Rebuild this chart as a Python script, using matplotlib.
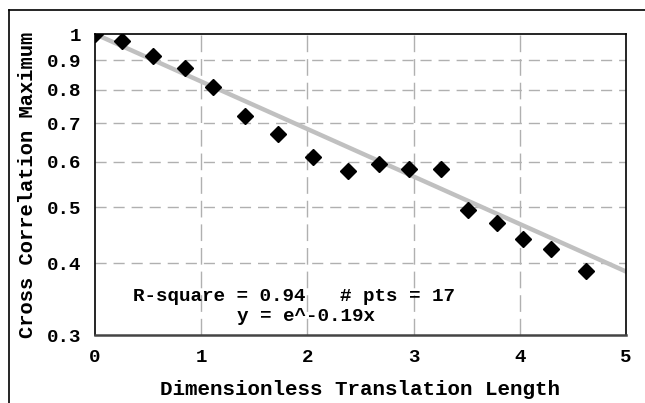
import numpy as np
import matplotlib
matplotlib.use("Agg")
import matplotlib.pyplot as plt
from matplotlib.lines import Line2D
from matplotlib.ticker import FixedLocator, NullLocator

# measured points: translation length vs cross-correlation peak
x_len = [0.0, 0.25, 0.55, 0.85, 1.11, 1.41, 1.72, 2.05, 2.38, 2.67, 2.96, 3.26,
         3.51, 3.79, 4.03, 4.29, 4.62]
corr_max = [1.0, 0.971, 0.914, 0.872, 0.808, 0.720, 0.671, 0.612, 0.578, 0.595,
            0.582, 0.583, 0.494, 0.470, 0.440, 0.424, 0.387]

fit_k = 0.19
r_square = 0.94

y_ticks = [0.3, 0.4, 0.5, 0.6, 0.7, 0.8, 0.9, 1.0]
y_ticklabels = ["0.3", "0.4", "0.5", "0.6", "0.7", "0.8", "0.9", "1"]
x_ticks = [0, 1, 2, 3, 4, 5]

font = "Liberation Mono"

fig = plt.figure(figsize=(6.45, 4.03), dpi=100)
ax = fig.add_axes([0.1473, 0.1687, 0.8232, 0.7469])

# fitted exponential
xf = np.linspace(0, 5, 200)
ax.plot(xf, np.exp(-fit_k * xf), color="#c0c0c0", lw=3.2, zorder=2)

ax.plot(x_len, corr_max, linestyle="none", marker="D", ms=8.5,
        color="black", zorder=3)

ax.set_yscale("log")
ax.set_xlim(0, 5)
ax.set_ylim(0.3, 1.0)
ax.yaxis.set_major_locator(FixedLocator(y_ticks))
ax.yaxis.set_minor_locator(NullLocator())
ax.set_yticklabels(y_ticklabels)
ax.set_xticks(x_ticks)

for v in y_ticks[1:-1]:
    ax.axhline(v, color="#b0b0b0", lw=1.0, dashes=(8, 5), zorder=1)
for v in x_ticks[1:-1]:
    ax.axvline(v, color="#b0b0b0", lw=1.0, dashes=(12, 5), zorder=1)

ax.tick_params(length=0, pad=10, labelsize=13.8)
for lab in ax.get_xticklabels() + ax.get_yticklabels():
    lab.set_family(font)
    lab.set_fontweight("bold")

for s in ax.spines.values():
    s.set_linewidth(1.2)
    s.set_color("black")
ax.spines["bottom"].set_linewidth(1.8)
ax.spines["bottom"].set_color("#444444")

ax.set_xlabel("Dimensionless Translation Length", family=font,
              fontweight="bold", fontsize=15, labelpad=10)
ax.set_ylabel("Cross Correlation Maximum", family=font,
              fontweight="bold", fontsize=14.8, labelpad=7)

ax.text(0.36, 0.35, "R-square = %.2f   # pts = %d" % (r_square, len(x_len)),
        transform=ax.transData, family=font, fontweight="bold",
        fontsize=13.9, va="center", ha="left")
ax.text(1.34, 0.323, "y = e^-%.2fx" % fit_k,
        transform=ax.transData, family=font, fontweight="bold",
        fontsize=13.9, va="center", ha="left")

# outer frame (top and left edges)
fig.add_artist(Line2D([9 / 645, 1.0], [1 - 10 / 403, 1 - 10 / 403],
                      transform=fig.transFigure, color="black", lw=1.2))
fig.add_artist(Line2D([9 / 645, 9 / 645], [0.0, 1 - 10 / 403],
                      transform=fig.transFigure, color="black", lw=1.2))

fig.savefig("out.png", dpi=100)
